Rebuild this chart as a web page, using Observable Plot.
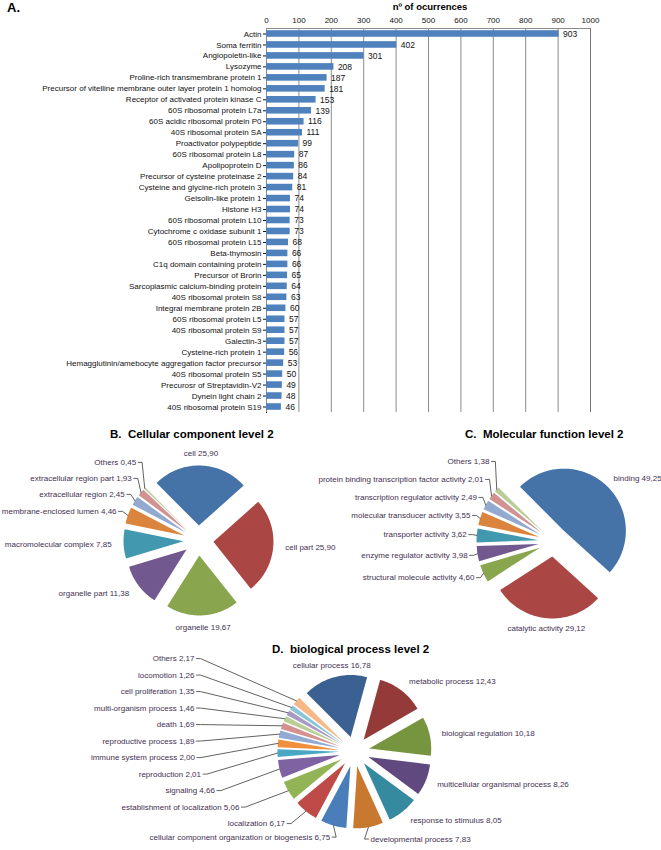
<!DOCTYPE html>
<html><head><meta charset="utf-8">
<script src="https://cdn.jsdelivr.net/npm/d3@7"></script>
<script src="https://cdn.jsdelivr.net/npm/@observablehq/plot@0.6"></script>
<style>
body{margin:0;background:#fff;}
#root{position:relative;width:661px;height:850px;overflow:hidden;font-family:"Liberation Sans",Arial,sans-serif;}
#root > *{position:absolute;}
.ttl{font-weight:bold;white-space:pre;color:#000;}
</style></head><body><div id="root"></div>
<script>
const FONT = '"Liberation Sans",Arial,sans-serif';

// ---------- A. bar chart data ----------
const barCategories = ["Actin","Soma ferritin","Angiopoietin-like","Lysozyme","Proline-rich transmembrane protein 1","Precursor of vitelline membrane outer layer protein 1 homolog","Receptor of activated protein kinase C","60S ribosomal protein L7a","60S acidic ribosomal protein P0","40S ribosomal protein SA","Proactivator polypeptide","60S ribosomal protein L8","Apolipoprotein D","Precursor of cysteine proteinase 2","Cysteine and glycine-rich protein 3","Gelsolin-like protein 1","Histone H3","60S ribosomal protein L10","Cytochrome c oxidase subunit 1","60S ribosomal protein L15","Beta-thymosin","C1q domain containing protein","Precursor of Brorin","Sarcoplasmic calcium-binding protein","40S ribosomal protein S8","Integral membrane protein 2B","60S ribosomal protein L5","40S ribosomal protein S9","Galectin-3","Cysteine-rich protein 1","Hemagglutinin/amebocyte aggregation factor precursor","40S ribosomal protein S5","Precurosr of Streptavidin-V2","Dynein light chain 2","40S ribosomal protein S19"];
const barValues = [903,402,301,208,187,181,153,139,116,111,99,87,86,84,81,74,74,73,73,68,66,66,65,64,63,60,57,57,57,56,53,50,49,48,46];
const xTicks = [0,100,200,300,400,500,600,700,800,900,1000];

// ---------- B. Cellular component ----------
const ccNames = ["cell","cell part","organelle","organelle part","macromolecular complex","membrane-enclosed lumen","extracellular region","extracellular region part","Others"];
const ccValues = [25.90,25.90,19.67,11.38,7.85,4.46,2.45,1.93,0.45];

// ---------- C. Molecular function ----------
const mfNames = ["binding","catalytic activity","structural molecule activity","enzyme regulator activity","transporter activity","molecular transducer activity","transcription regulator activity","protein binding transcription factor activity","Others"];
const mfValues = [49.25,29.12,4.60,3.98,3.62,3.55,2.49,2.01,1.38];

// ---------- D. Biological process ----------
const bpNames = ["cellular process","metabolic process","biological regulation","multicellular organismal process","response to stimulus","developmental process","cellular component organization or biogenesis","localization","establishment of localization","signaling","reproduction","immune system process","reproductive process","death","multi-organism process","cell proliferation","locomotion","Others"];
const bpValues = [16.78,12.43,10.18,8.26,8.05,7.83,6.75,6.17,5.06,4.66,2.01,2.00,1.89,1.69,1.46,1.35,1.26,2.17];

// ---------- styles ----------
const palette9 = ["#4572A7","#AA4643","#89A54E","#71588F","#4198AF","#DB843D","#93A9CF","#D19392","#B9CD96"];
const palette18 = ["#3B6092","#943B39","#77943F","#60497F","#368A9F","#C9782F","#4A7EBB","#BE4B48","#93B455","#7E62A1","#48A8C4","#F0903D","#93AAD5","#D4918F","#B9CF95","#A99AC3","#89C5D7","#F8B886"];
const labelColor = "#3F3151";

const root = document.getElementById("root");
function addTitle(text, left, top, size, center) {
  const d = document.createElement("div");
  d.className = "ttl"; d.textContent = text;
  d.style.left = left + "px"; d.style.top = top + "px"; d.style.fontSize = size + "px";
  if (center) d.style.transform = "translateX(-50%)";
  root.appendChild(d);
}
function place(el, left, top) { el.style.left = left + "px"; el.style.top = top + "px"; root.appendChild(el); }

// ---------- bar chart ----------
const barData = barCategories.map((name, i) => ({name, value: barValues[i]}));
const bTop = 28, bBottom = 2, bHeight = 414;
const step = (bHeight - bTop - bBottom) / barCategories.length;
const bar = Plot.plot({
  width: 661, height: bHeight, marginTop: bTop, marginLeft: 266, marginRight: 71, marginBottom: bBottom,
  style: {fontFamily: FONT, fontSize: "8px", background: "transparent", color: "#111", overflow: "visible"},
  x: {domain: [0, 1000], ticks: xTicks, axis: "top", tickSize: 0, tickPadding: 6, label: null, tickFormat: "d"},
  y: {domain: barCategories, label: null, tickSize: 3, tickPadding: 2, line: true, paddingInner: 0.4, paddingOuter: 0.2},
  marks: [
    Plot.gridX(xTicks, {stroke: "#8c8c8c", strokeOpacity: 1}),
    Plot.ruleY([barCategories[0]], {stroke: "#8c8c8c", dy: -step / 2}),
    Plot.ruleX([1000], {stroke: "#777"}),
    Plot.barX(barData, {x: "value", y: "name", fill: "#4F81BD"}),
    Plot.text(barData, {x: "value", y: "name", text: d => String(d.value), dx: 4, textAnchor: "start", fill: "#111", fontSize: 8.5})
  ]
});
place(bar, 0, 0);
addTitle("A.", 7, 0, 13);
addTitle("nº of ocurrences", 430, 1, 9.5, true);

// ---------- pies ----------
const fmt = v => d3.format(".2f")(v).replace(".", ",");
const rad = a => a * Math.PI / 180;

function resolve(arr, s, mode) {
  const n = arr.length; if (!n) return;
  if (mode === "up") {
    for (let i = n - 2; i >= 0; i--) arr[i].y = Math.min(arr[i].y, arr[i + 1].y - s);
  } else {
    const blocks = [];
    arr.forEach((d, i) => {
      blocks.push({sum: d.y - s * i, n: 1});
      while (blocks.length > 1) {
        const a = blocks[blocks.length - 2], b = blocks[blocks.length - 1];
        if (a.sum / a.n > b.sum / b.n) { blocks.pop(); a.sum += b.sum; a.n += b.n; } else break;
      }
    });
    let i = 0;
    for (const b of blocks) { const m = b.sum / b.n; for (let k = 0; k < b.n; k++, i++) arr[i].y = m + s * i; }
  }
}

function pieChart(names, values, palette, o) {
  const total = d3.sum(values);
  let acc = 0;
  const slices = names.map((name, i) => {
    const a0 = o.start + acc / total * 360; acc += values[i];
    const a1 = o.start + acc / total * 360;
    return {name, value: values[i], a0, a1, mid: (a0 + a1) / 2};
  });
  const pt = (a, r, off) => [off[0] + r * Math.sin(rad(a)), off[1] - r * Math.cos(rad(a))];
  const poly = [];
  for (const s of slices) {
    const off = pt(s.mid, o.e, [0, 0]);
    const n = Math.max(2, Math.ceil(s.a1 - s.a0));
    poly.push({name: s.name, x: off[0], y: off[1]});
    for (let k = 0; k <= n; k++) {
      const [x, y] = pt(s.a0 + (s.a1 - s.a0) * k / n, o.R, off);
      poly.push({name: s.name, x, y});
    }
  }
  const rl = o.R + o.e + o.pad;
  const labels = slices.map(s => {
    const sin = Math.sin(rad(s.mid)), cos = Math.cos(rad(s.mid));
    const lead = s.value < o.leaderMax;
    let anchor = sin > 0.3 ? "start" : sin < -0.3 ? "end" : "middle";
    if (lead && anchor === "middle") anchor = sin < 0 ? "end" : "start";
    return {name: s.name, text: s.name + " " + fmt(s.value), x: rl * sin, y: -rl * cos, sin, lead, anchor, mid: s.mid};
  });
  const stack = labels.filter(d => d.sin < -0.3).sort((a, b) => a.y - b.y);
  resolve(stack, o.spacing, o.resolve);
  if (o.col) for (const d of stack) {
    const yy = Math.max(0, d.y);
    const c = -o.col * Math.sqrt(Math.max(0, 1 - (yy / o.ry) ** 2));
    d.x = Math.min(d.x, c);
  }
  const leaders = [];
  for (const d of labels) if (d.lead) {
    const dir = d.anchor === "end" ? 1 : -1;
    const [ax, ay] = pt(d.mid, o.R + o.e, [0, 0]);
    leaders.push({name: d.name, x: d.x + 2 * dir, y: d.y}, {name: d.name, x: d.x + 6 * dir, y: d.y}, {name: d.name, x: ax, y: ay});
  }
  const chart = Plot.plot({
    width: o.width, height: o.height, margin: 0,
    style: {fontFamily: FONT, fontSize: "8px", background: "transparent", overflow: "visible"},
    x: {domain: [o.left - o.cx, o.left + o.width - o.cx], axis: null},
    y: {domain: [o.top - o.cy, o.top + o.height - o.cy], reverse: true, axis: null},
    color: {domain: names, range: palette},
    marks: [
      Plot.line(poly, {x: "x", y: "y", z: "name", fill: "name", stroke: null, curve: "linear-closed"}),
      Plot.line(leaders, {x: "x", y: "y", z: "name", stroke: "#3a3a3a", strokeWidth: 0.8}),
      ...["start", "middle", "end"].map(a => Plot.text(labels.filter(d => d.anchor === a), {x: "x", y: "y", text: "text", textAnchor: a, fill: labelColor}))
    ]
  });
  place(chart, o.left, o.top);
}

pieChart(ccNames, ccValues, palette9, {left: 0, top: 440, width: 340, height: 200, cx: 198, cy: 540, R: 60, e: 15, pad: 12, start: -45, spacing: 16, resolve: "up", leaderMax: 5});
pieChart(mfNames, mfValues, palette9, {left: 300, top: 440, width: 361, height: 200, cx: 553, cy: 541, R: 62, e: 15, pad: 10, start: -45, spacing: 18, resolve: "up", leaderMax: 5});
pieChart(bpNames, bpValues, palette18, {left: 0, top: 652, width: 661, height: 198, cx: 354, cy: 751, R: 62, e: 15, pad: 12, start: -45, spacing: 16.5, resolve: "balanced", col: 160, ry: 80, leaderMax: 8});

addTitle("B.  Cellular component level 2", 110, 428, 11.5);
addTitle("C.  Molecular function level 2", 465, 428, 11.5);
addTitle("D.  biological process level 2", 272, 643, 11.5);
</script></body></html>
